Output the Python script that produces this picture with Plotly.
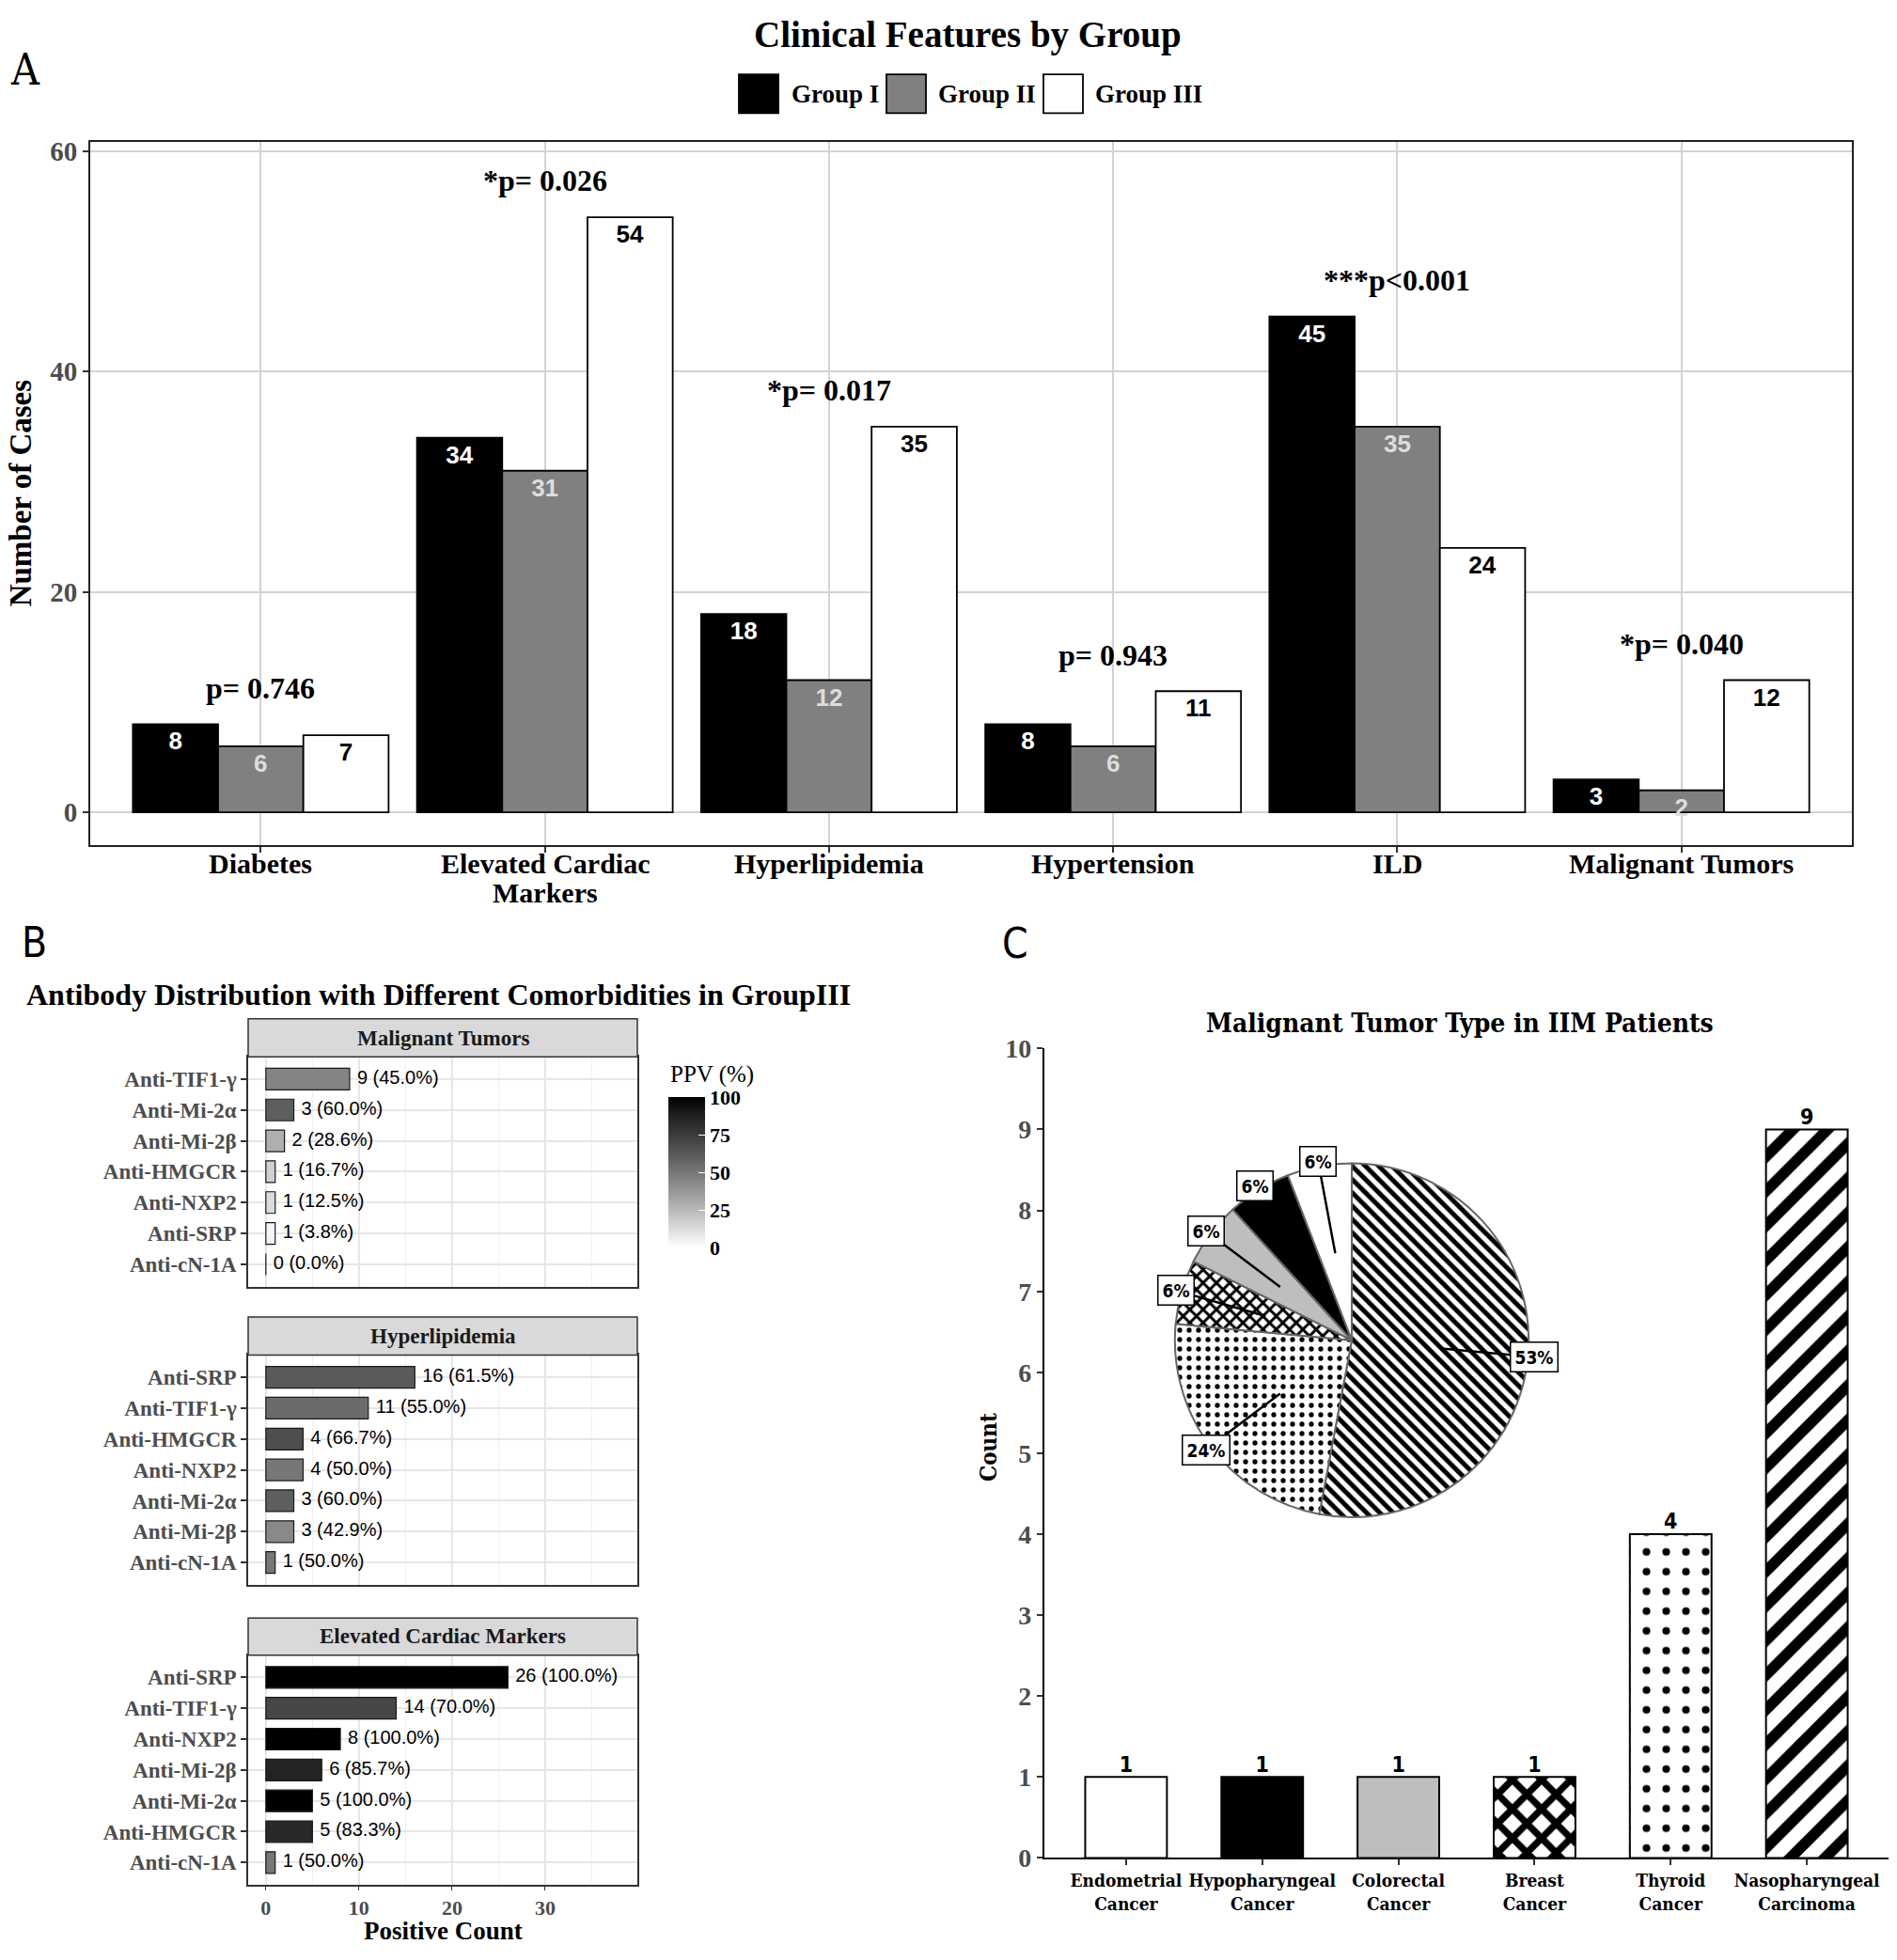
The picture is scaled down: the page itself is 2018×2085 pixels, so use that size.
import math
import plotly.graph_objects as go

W, H = 2018, 2085

def px(x):
    return x / W

def py(y):
    return 1 - y / H

SERIF = "Liberation Serif"
SANS = "Liberation Sans"
CSERIF = "DejaVu Serif Condensed, DejaVu Serif"
CSANS = "DejaVu Sans Condensed, DejaVu Sans"

# ---------------- Panel A data ----------------
features = ["Diabetes", "Elevated Cardiac<br>Markers", "Hyperlipidemia",
            "Hypertension", "ILD", "Malignant Tumors"]
group_names = ["Group I", "Group II", "Group III"]
group1 = [8, 34, 18, 8, 45, 3]
group2 = [6, 31, 12, 6, 35, 2]
group3 = [7, 54, 35, 11, 24, 12]
p_labels = ["p= 0.746", "*p= 0.026", "*p= 0.017", "p= 0.943", "***p<0.001", "*p= 0.040"]
group_fill = ["#000000", "#808080", "#ffffff"]
group_text = ["#ffffff", "#dddddd", "#000000"]

# ---------------- Panel B data ----------------
facet_names = ["Malignant Tumors", "Hyperlipidemia", "Elevated Cardiac Markers"]
mt_antibodies = ["Anti-TIF1-γ", "Anti-Mi-2α", "Anti-Mi-2β", "Anti-HMGCR", "Anti-NXP2", "Anti-SRP", "Anti-cN-1A"]
mt_counts = [9, 3, 2, 1, 1, 1, 0]
mt_ppv = [45.0, 60.0, 28.6, 16.7, 12.5, 3.8, 0.0]
hl_antibodies = ["Anti-SRP", "Anti-TIF1-γ", "Anti-HMGCR", "Anti-NXP2", "Anti-Mi-2α", "Anti-Mi-2β", "Anti-cN-1A"]
hl_counts = [16, 11, 4, 4, 3, 3, 1]
hl_ppv = [61.5, 55.0, 66.7, 50.0, 60.0, 42.9, 50.0]
ec_antibodies = ["Anti-SRP", "Anti-TIF1-γ", "Anti-NXP2", "Anti-Mi-2β", "Anti-Mi-2α", "Anti-HMGCR", "Anti-cN-1A"]
ec_counts = [26, 14, 8, 6, 5, 5, 1]
ec_ppv = [100.0, 70.0, 100.0, 85.7, 100.0, 83.3, 50.0]
ppv_ticks = [0, 25, 50, 75, 100]
count_ticks = [0, 10, 20, 30]

# ---------------- Panel C data ----------------
tumor_types = ["Endometrial<br>Cancer", "Hypopharyngeal<br>Cancer", "Colorectal<br>Cancer",
               "Breast<br>Cancer", "Thyroid<br>Cancer", "Nasopharyngeal<br>Carcinoma"]
tumor_counts = [1, 1, 1, 1, 4, 9]
tumor_fill = ["#ffffff", "#000000", "#bebebe", "#ffffff", "#ffffff", "#ffffff"]
bar_patterns = ["", "", "", "x", ".", "/"]
bar_pat_size = [10, 10, 10, 22, 21, 26]
bar_pat_solid = [0.3, 0.3, 0.3, 0.55, 0.12, 0.45]
pie_patterns = ["", "", "", "x", ".", "\\"]
pie_pat_size = [11, 9, 9, 10, 10, 10]
pie_pat_solid = [0.3, 0.3, 0.3, 0.5, 0.22, 0.5]

fig = go.Figure()

# ================= Panel A =================
for name, vals, fc, tc in zip(group_names, [group1, group2, group3], group_fill, group_text):
    fig.add_trace(go.Bar(
        x=features, y=vals, name=name, xaxis="x", yaxis="y",
        marker=dict(color=fc, line=dict(color="#000000", width=1.8)),
        text=[str(v) for v in vals], textposition="inside", insidetextanchor="end",
        textangle=0, constraintext="none",
        textfont=dict(family=SANS, size=26, color=tc, weight="bold"),
        showlegend=False, hoverinfo="x+y",
    ))

annotations = []
shapes = []

max_vals = [max(a, b, c) for a, b, c in zip(group1, group2, group3)]
for f, m, lab in zip(features, max_vals, p_labels):
    annotations.append(dict(x=f, y=m + 3.3, xref="x", yref="y", text=lab, showarrow=False,
                            font=dict(family=SERIF, size=32, color="#000000", weight="bold"),
                            yanchor="middle"))

# category labels of panel A (tighter line spacing than plotly tick labels)
for f in features:
    for k, line in enumerate(f.split("<br>")):
        annotations.append(dict(x=f, y=py(917 + 32 * k), xref="x", yref="paper", text=line,
                                showarrow=False, xanchor="center", yanchor="middle",
                                font=dict(family=SERIF, size=30, color="#000000", weight="bold")))

# legend (manual)
leg_items = [(786, 840), (943, 996), (1110, 1163)]
for (bx, tx), name, fc in zip(leg_items, group_names, group_fill):
    shapes.append(dict(type="rect", xref="paper", yref="paper", x0=px(bx), x1=px(bx + 42),
                       y0=py(107), y1=py(65), fillcolor=fc, line=dict(color="#000000", width=1.8)))
    annotations.append(dict(x=px(tx), y=py(86), xref="paper", yref="paper", text=name,
                            showarrow=False, xanchor="left", yanchor="middle",
                            font=dict(family=SERIF, size=27, color="#000000", weight="bold")))

annotations.append(dict(x=px(1029), y=py(22), xref="paper", yref="paper",
                        text="Clinical Features by Group", showarrow=False,
                        xanchor="center", yanchor="middle",
                        font=dict(family=SERIF, size=39, color="#000000", weight="bold")))
annotations.append(dict(x=px(27), y=py(60), xref="paper", yref="paper", text="A", showarrow=False,
                        xanchor="center", yanchor="middle",
                        font=dict(family=CSERIF, size=46, color="#000000")))
annotations.append(dict(x=px(22), y=py(517), xref="paper", yref="paper", text="Number of Cases",
                        showarrow=False, textangle=-90, xanchor="center", yanchor="middle",
                        font=dict(family=SERIF, size=33, color="#000000", weight="bold")))

# ================= Panel B =================
facet_data = [(mt_antibodies, mt_counts, mt_ppv), (hl_antibodies, hl_counts, hl_ppv),
              (ec_antibodies, ec_counts, ec_ppv)]
panel_y = [(1126, 1374), (1448, 1696), (1772, 2020)]
strip_y = [(1085, 1126), (1407, 1448), (1732, 1772)]
bx0, bx1 = 264, 678

for i, ((abs_, cnts, ppv), fname) in enumerate(zip(facet_data, facet_names)):
    ax_id = i + 2
    fig.add_trace(go.Bar(
        x=cnts, y=abs_, orientation="h", width=0.7,
        xaxis=f"x{ax_id}", yaxis=f"y{ax_id}",
        marker=dict(color=ppv, coloraxis="coloraxis", line=dict(color="#1a1a1a", width=1.2)),
        showlegend=False, hoverinfo="x+y",
    ))
    fig.add_trace(go.Scatter(
        x=[c + 0.8 for c in cnts], y=abs_, mode="text",
        text=[f"{c} ({p:.1f}%)" for c, p in zip(cnts, ppv)],
        textposition="middle right", cliponaxis=False,
        textfont=dict(family=SANS, size=20, color="#000000"),
        xaxis=f"x{ax_id}", yaxis=f"y{ax_id}", showlegend=False, hoverinfo="skip",
    ))
    sy0, sy1 = strip_y[i]
    shapes.append(dict(type="rect", xref="paper", yref="paper", x0=px(bx0), x1=px(bx1),
                       y0=py(sy1), y1=py(sy0), fillcolor="#d9d9d9",
                       line=dict(color="#333333", width=1.5)))
    annotations.append(dict(x=px((bx0 + bx1) / 2), y=py((sy0 + sy1) / 2), xref="paper", yref="paper",
                            text=fname, showarrow=False, xanchor="center", yanchor="middle",
                            font=dict(family=SERIF, size=23, color="#1a1a1a", weight="bold")))

annotations.append(dict(x=px(26), y=py(1059), xref="paper", yref="paper",
                        text="Antibody Distribution with Different Comorbidities in GroupIII",
                        showarrow=False, xanchor="left", yanchor="middle",
                        font=dict(family=SERIF, size=32, color="#000000", weight="bold")))
annotations.append(dict(x=px(36), y=py(1002), xref="paper", yref="paper", text="B", showarrow=False,
                        xanchor="center", yanchor="middle",
                        font=dict(family=CSANS, size=44, color="#000000")))
annotations.append(dict(x=px((bx0 + bx1) / 2), y=py(2070), xref="paper", yref="paper",
                        text="Positive Count", showarrow=False, xanchor="center", yanchor="middle",
                        font=dict(family=SERIF, size=27, color="#000000", weight="bold")))
annotations.append(dict(x=px(711), y=py(1145), xref="paper", yref="paper",
                        text="PPV (%)", showarrow=False, xanchor="left", yanchor="middle",
                        font=dict(family=SERIF, size=25, color="#000000")))

# ================= Panel C =================
# one trace per tumour type so that each bar's pattern keeps its own black foreground
for t, c, fc, shp, sz, sol in zip(tumor_types, tumor_counts, tumor_fill,
                                  bar_patterns, bar_pat_size, bar_pat_solid):
    fig.add_trace(go.Bar(
        x=[t], y=[c], width=0.6, offsetgroup="tumor", xaxis="x5", yaxis="y5",
        marker=dict(color=fc, line=dict(color="#000000", width=2),
                    pattern=dict(shape=shp, fillmode="replace", fgcolor="#000000",
                                 bgcolor=fc, fgopacity=1, size=sz, solidity=sol)),
        showlegend=False, hoverinfo="x+y",
    ))
fig.add_trace(go.Scatter(
    x=tumor_types, y=tumor_counts, mode="text", text=[str(v) for v in tumor_counts],
    textposition="top center", cliponaxis=False,
    textfont=dict(family=CSANS, size=23, color="#000000", weight="bold"),
    xaxis="x5", yaxis="y5", showlegend=False, hoverinfo="skip",
))

n_t = len(tumor_counts)
pcx, pcy, pr = 1438, 1432, 191
pie_labels = [t.replace("<br>", " ") for t in tumor_types][::-1]
fig.add_trace(go.Pie(
    labels=pie_labels, values=tumor_counts[::-1],
    sort=False, direction="clockwise", rotation=0, textinfo="none",
    domain=dict(x=[px(pcx - pr), px(pcx + pr)], y=[py(pcy + pr), py(pcy - pr)]),
    marker=dict(colors=tumor_fill[::-1], line=dict(color="#666666", width=2),
                pattern=dict(shape=pie_patterns[::-1], fillmode="replace",
                             fgcolor=["#000000"] * n_t, bgcolor=tumor_fill[::-1], fgopacity=1,
                             size=pie_pat_size[::-1], solidity=pie_pat_solid[::-1])),
    showlegend=False, hoverinfo="label+value",
))

total = sum(tumor_counts)
cum = 0
for v in tumor_counts:
    mid = (cum + v / 2) / total * 2 * math.pi
    cum += v
    dx = -math.sin(mid)
    dy_up = math.cos(mid)
    r_in, r_out = 0.5 * pr, 1.02 * pr
    pct = f"{round(v / total * 100):d}%"
    annotations.append(dict(
        x=px(pcx) + r_in * dx / W, y=py(pcy) + r_in * dy_up / H, xref="paper", yref="paper",
        ax=(r_out - r_in) * dx, ay=-(r_out - r_in) * dy_up, axref="pixel", ayref="pixel",
        text=pct, showarrow=True, arrowhead=0, arrowwidth=2.5, arrowcolor="#000000", standoff=0,
        bgcolor="#ffffff", bordercolor="#000000", borderwidth=1.5, borderpad=4,
        font=dict(family=CSANS, size=19, color="#000000", weight="bold"),
    ))

annotations.append(dict(x=px(1553), y=py(1090), xref="paper", yref="paper",
                        text="Malignant Tumor Type in IIM Patients", showarrow=False,
                        xanchor="center", yanchor="middle",
                        font=dict(family=CSERIF, size=28, color="#000000", weight="bold")))
annotations.append(dict(x=px(1080), y=py(1003), xref="paper", yref="paper", text="C", showarrow=False,
                        xanchor="center", yanchor="middle",
                        font=dict(family=CSANS, size=44, color="#000000")))
annotations.append(dict(x=px(1052), y=py(1548), xref="paper", yref="paper", text="Count",
                        showarrow=False, textangle=-90, xanchor="center", yanchor="middle",
                        font=dict(family=CSERIF, size=24, color="#000000", weight="bold")))

# ================= Layout =================
gray_scale = [[0.0, "#ffffff"], [0.125, "#dbdbdb"], [0.25, "#b9b9b9"], [0.375, "#979797"],
              [0.5, "#777777"], [0.625, "#585858"], [0.75, "#3b3b3b"], [0.875, "#202020"],
              [1.0, "#000000"]]

layout = dict(
    width=W, height=H, paper_bgcolor="#ffffff", plot_bgcolor="#ffffff",
    margin=dict(l=0, r=0, t=0, b=0),
    barmode="group", bargap=0.1, bargroupgap=0.0,
    showlegend=False,
    annotations=annotations, shapes=shapes,
    coloraxis=dict(
        cmin=0, cmax=100, colorscale=gray_scale,
        colorbar=dict(
            x=px(711), xanchor="left", y=py(1332), yanchor="bottom", ypad=0, xpad=0,
            lenmode="pixels", len=160, thicknessmode="pixels", thickness=39,
            outlinewidth=0, tickvals=ppv_ticks, ticks="inside", tickcolor="#ffffff", ticklen=7,
            tickfont=dict(family=SERIF, size=22, color="#000000", weight="bold"),
        ),
    ),
    xaxis=dict(
        domain=[px(96), px(1970)], anchor="y", type="category", range=[-0.6, 5.6],
        showgrid=True, gridcolor="#d3d3d3", gridwidth=1.5,
        showline=True, mirror=True, linecolor="#222222", linewidth=1.8,
        ticks="outside", ticklen=6, tickcolor="#333333", tickwidth=1.5,
        showticklabels=False, zeroline=False, fixedrange=True,
    ),
    yaxis=dict(
        domain=[py(897), py(138)], anchor="x", range=[-2.94, 60.84], tickvals=[0, 20, 40, 60],
        showgrid=True, gridcolor="#d3d3d3", gridwidth=2,
        showline=True, mirror=True, linecolor="#222222", linewidth=1.8,
        ticks="outside", ticklen=6, tickcolor="#333333", tickwidth=1.5,
        tickfont=dict(family=SERIF, size=29, color="#4d4d4d", weight="bold"),
        zeroline=False, fixedrange=True,
    ),
    xaxis5=dict(
        domain=[px(1111), px(2009)], anchor="y5", type="category", range=[-0.6, 5.6],
        categoryorder="array", categoryarray=tumor_types,
        showgrid=False, showline=True, linecolor="#000000", linewidth=2.2,
        ticks="outside", ticklen=6, tickcolor="#333333", tickwidth=1.5, tickangle=0,
        tickfont=dict(family=CSERIF, size=19, color="#000000", weight="bold"),
        zeroline=False,
    ),
    yaxis5=dict(
        domain=[py(1991), py(1117)], anchor="x5", range=[0, 10], dtick=1,
        showgrid=False, showline=True, linecolor="#000000", linewidth=2.2,
        ticks="outside", ticklen=6, tickcolor="#333333", tickwidth=1.5,
        tickfont=dict(family=SERIF, size=28, color="#4d4d4d", weight="bold"),
        zeroline=False,
    ),
)

for i, (abs_, _, _) in enumerate(facet_data):
    ax_id = i + 2
    y0, y1 = panel_y[i]
    last = (i == len(facet_data) - 1)
    layout[f"xaxis{ax_id}"] = dict(
        domain=[px(bx0), px(bx1)], anchor=f"y{ax_id}", range=[-1.9, 39.9], tickvals=count_ticks,
        showticklabels=last, ticks="outside" if last else "", ticklen=4, tickcolor="#333333",
        tickfont=dict(family=SERIF, size=22, color="#4d4d4d", weight="bold"),
        showgrid=True, gridcolor="#e6e6e6", gridwidth=1.5,
        minor=dict(tickvals=[5, 15, 25, 35], showgrid=True, gridcolor="#f0f0f0", gridwidth=1),
        showline=True, mirror=True, linecolor="#333333", linewidth=1.5, zeroline=False,
    )
    layout[f"yaxis{ax_id}"] = dict(
        domain=[py(y1), py(y0)], anchor=f"x{ax_id}", type="category",
        categoryorder="array", categoryarray=list(reversed(abs_)), range=[-0.72, 6.72],
        ticks="outside", ticklen=6, tickcolor="#333333", tickwidth=1.5,
        tickfont=dict(family=SERIF, size=23, color="#4d4d4d", weight="bold"),
        showgrid=True, gridcolor="#e6e6e6", gridwidth=1.5,
        showline=True, mirror=True, linecolor="#333333", linewidth=1.5, zeroline=False,
    )

fig.update_layout(**layout)
fig.write_html("out.html", config={"displayModeBar": False},
               post_script="document.body.style.margin='0px';document.body.style.padding='0px';")
